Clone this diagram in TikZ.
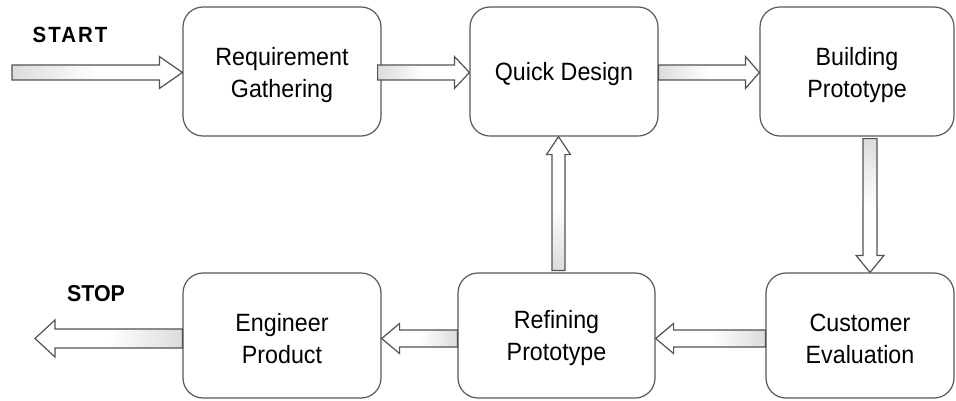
\documentclass[tikz,border=0pt]{standalone}
\usepackage{fontspec}
\setmainfont{Liberation Sans}[FakeStretch=0.93]
\usetikzlibrary{calc}
\tikzset{
  box/.style={draw=black!65, line width=1.2pt, rounded corners=20pt, fill=white, inner sep=0pt},
  txt/.style={align=center, font=\fontsize{25}{32}\selectfont, inner sep=0pt},
  fatarr/.style={draw=black!68, line width=1.2pt, line join=miter,
    top color=black!14, bottom color=white, middle color=white},
  lbl/.style={font=\fontsize{22}{24}\selectfont\bfseries, inner sep=0pt}
}
% #1 tail, #2 tip, #3 shading angle, #4 half shaft, #5 half head, #6 head length
\newcommand\fatarrow[6]{%
  \path[fatarr, shading angle=#3]
    ($(#1)!#4pt!90:(#2)$) --
    ($($(#2)!#6pt!(#1)$)!#4pt!90:(#2)$) --
    ($($(#2)!#6pt!(#1)$)!#5pt!90:(#2)$) --
    (#2) --
    ($($(#2)!#6pt!(#1)$)!#5pt!-90:(#2)$) --
    ($($(#2)!#6pt!(#1)$)!#4pt!-90:(#2)$) --
    ($(#1)!#4pt!-90:(#2)$) -- cycle;}
\begin{document}
\begin{tikzpicture}[x=1pt,y=-1pt]
\useasboundingbox (0,0) rectangle (956,400);
\fill[white] (0,0) rectangle (956,400);
% boxes
\node[box, minimum width=198pt, minimum height=129pt] (b1) at (282,71.5) {};
\node[box, minimum width=188pt, minimum height=129pt] (b2) at (564,71.5) {};
\node[box, minimum width=194pt, minimum height=129pt] (b3) at (857,71.5) {};
\node[box, minimum width=198pt, minimum height=125pt] (b4) at (282,335.5) {};
\node[box, minimum width=197pt, minimum height=125pt] (b5) at (556.5,335.5) {};
\node[box, minimum width=188pt, minimum height=125pt] (b6) at (860,335.5) {};
% texts
\node[txt] (t1) at ($(b1.center)+(0,4)$) {Requirement\\Gathering};
\node[txt] (t2) at ($(b2.center)+(0,3)$) {Quick Design};
\node[txt] (t3) at ($(b3.center)+(0,4)$) {Building\\Prototype};
\node[txt] (t4) at ($(b4.center)+(0,3)$) {Engineer\\Product};
\node[txt] (t5) at ($(b5.center)+(0,3)$) {Refining\\Prototype};
\node[txt] (t6) at ($(b6.center)+(0,3)$) {Customer\\Evaluation};
% labels
\node[lbl] (start) at (70,35) {\addfontfeature{LetterSpace=9}START};
\node[lbl] (stop) at (96,293.5) {\fontsize{23}{24}\selectfont STOP};
% coordinates
\coordinate (s0) at (12,72.5);
\coordinate (s1) at (b1.west |- s0);
\coordinate (a1) at ($(b1.east)+(-4,1)$);
\coordinate (a2) at (b2.west |- a1);
\coordinate (c1) at ($(b2.east)+(0,1)$);
\coordinate (c2) at (b3.west |- c1);
\coordinate (d1) at ($(b3.south)+(13,2)$);
\coordinate (d2) at (d1 |- b6.north);
\coordinate (e1) at ($(b6.west)+(0,3)$);
\coordinate (e2) at (b5.east |- e1);
\coordinate (f1) at ($(b5.west)+(0,3)$);
\coordinate (f2) at (b4.east |- f1);
\coordinate (u1) at ($(b5.north)+(2,-2)$);
\coordinate (u2) at (u1 |- b2.south);
\coordinate (p1) at ($(b4.west)+(0,3)$);
\coordinate (p2) at (35,338.5);
% arrows
\fatarrow{s0}{s1}{90}{7.5}{16}{23}
\fatarrow{a1}{a2}{90}{7.5}{16}{15}
\fatarrow{c1}{c2}{90}{7.5}{16}{14}
\fatarrow{d1}{d2}{0}{7}{14}{17}
\fatarrow{e1}{e2}{-90}{8.5}{15}{18}
\fatarrow{f1}{f2}{-90}{8.5}{15}{18}
\fatarrow{u1}{u2}{180}{6.5}{12}{18}
\fatarrow{p1}{p2}{-90}{9.5}{18.5}{20}
\end{tikzpicture}
\end{document}
